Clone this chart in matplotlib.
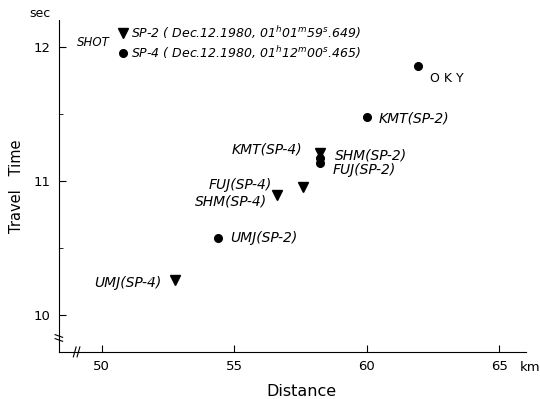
import matplotlib.pyplot as plt

# travel times (km, sec)
circ_names = ['OKY', 'KMT(SP-2)', 'SHM(SP-2)', 'FUJ(SP-2)', 'UMJ(SP-2)']
circ_x = [61.92, 60.01, 58.24, 58.24, 54.38]
circ_y = [11.86, 11.475, 11.17, 11.13, 10.57]

tri_names = ['KMT(SP-4)', 'FUJ(SP-4)', 'SHM(SP-4)', 'UMJ(SP-4)']
tri_x = [58.24, 57.58, 56.60, 52.77]
tri_y = [11.21, 10.955, 10.895, 10.26]

# label offsets in points
circ_off = [(9, -9), (8, -1), (11, 2), (9, -4.5), (9, 0)]
tri_off = [(-13, 2), (-22, 1.5), (-7, -5), (-10, -2)]

fig = plt.figure(figsize=(5.4, 3.99), dpi=100)
ax = fig.add_axes([0.109, 0.118, 0.865, 0.832])

ax.plot(circ_x, circ_y, 'ko', ms=5.5, ls='none')
ax.plot(tri_x, tri_y, 'kv', ms=6.5, ls='none')

for n, x, y, off in zip(circ_names, circ_x, circ_y, circ_off):
    if n == 'OKY':
        ax.annotate('O K Y', (x, y), xytext=off, textcoords='offset points',
                    fontsize=9, va='center', ha='left')
    else:
        ax.annotate(n, (x, y), xytext=off, textcoords='offset points',
                    fontsize=10, style='italic', va='center', ha='left')
for n, x, y, off in zip(tri_names, tri_x, tri_y, tri_off):
    ax.annotate(n, (x, y), xytext=off, textcoords='offset points',
                fontsize=10, style='italic', va='center', ha='right')

# shot legend
ax.plot([50.8], [12.105], 'kv', ms=7.5, clip_on=False)
ax.plot([50.8], [11.955], 'ko', ms=5.5, clip_on=False)
ax.text(49.07, 12.03, 'SHOT', fontsize=8.5, style='italic', va='center')
ax.text(51.1, 12.105, r'SP-2 ( Dec.12.1980, 01$^{h}$01$^{m}$59$^{s}$.649)',
        fontsize=9, style='italic', va='center')
ax.text(51.1, 11.955, r'SP-4 ( Dec.12.1980, 01$^{h}$12$^{m}$00$^{s}$.465)',
        fontsize=9, style='italic', va='center')

ax.set_xlim(48.39, 66.0)
ax.set_ylim(9.724, 12.2)
ax.set_xticks([50, 55, 60, 65])
ax.set_yticks([10, 11, 12])
ax.set_yticks([10.5, 11.5], minor=True)
ax.tick_params(direction='in', length=5, labelsize=9.5, pad=6)
ax.tick_params(which='minor', direction='in', length=3)
for s in ['top', 'right']:
    ax.spines[s].set_visible(False)

ax.set_ylabel('Travel   Time', fontsize=10.5, labelpad=7)
ax.text(0.52, -0.12, 'Distance', transform=ax.transAxes, fontsize=11.5,
        ha='center', va='center')
ax.text(-0.04, 1.0, 'sec', transform=ax.transAxes, fontsize=9,
        ha='center', va='bottom')
ax.text(0.987, -0.046, 'km', transform=ax.transAxes, fontsize=9.5,
        ha='left', va='center')

# axis breaks
for dy in (-0.006, 0.006):
    ax.plot([-0.008, 0.008], [0.042 + dy + 0.004, 0.042 + dy - 0.004],
            'k-', lw=0.8, transform=ax.transAxes, clip_on=False)
for dx in (-0.004, 0.004):
    ax.plot([0.038 + dx - 0.003, 0.038 + dx + 0.003], [-0.015, 0.015],
            'k-', lw=0.8, transform=ax.transAxes, clip_on=False)

fig.savefig('out.png', dpi=100)
